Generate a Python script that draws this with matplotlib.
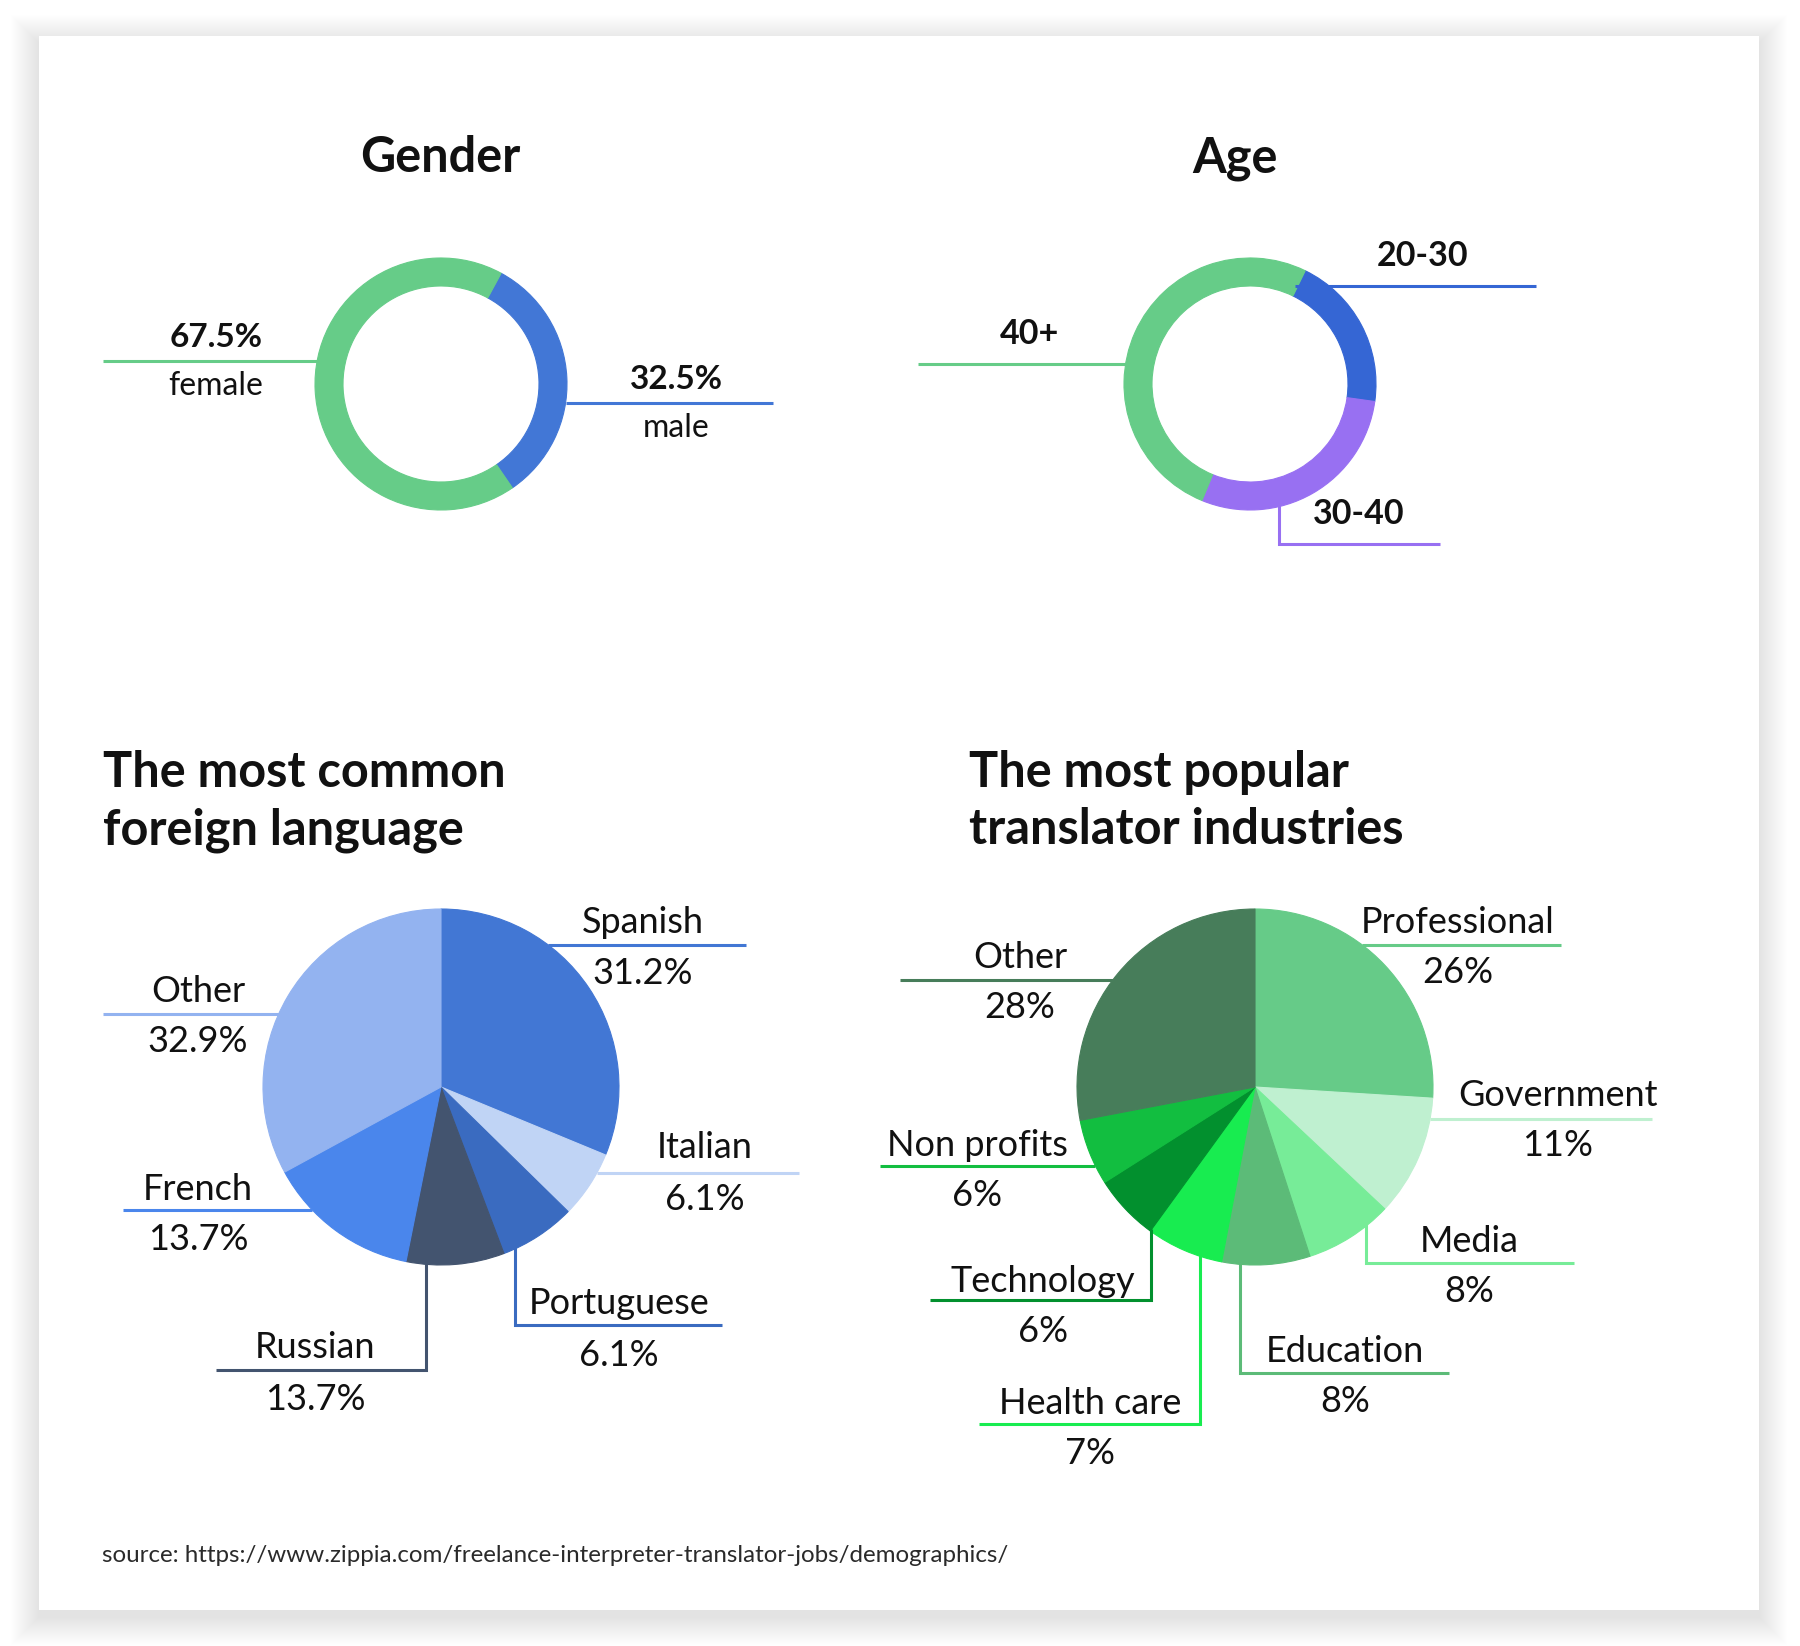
import numpy as np
import matplotlib.pyplot as plt
from matplotlib.patches import Rectangle

plt.rcParams['font.family'] = ['Lato', 'DejaVu Sans']

# ---------------------------------------------------
# DATA
# ---------------------------------------------------
gender_labels = ["male", "female"]
gender_values = [32.5, 67.5]
gender_colors = ["#4277D6", "#66CC88"]

age_labels = ["20-30", "30-40", "40+"]
age_values = [20, 29, 51]
age_colors = ["#3566D4", "#9870F2", "#66CC88"]

lang_labels = ["Spanish", "Italian", "Portuguese", "Russian", "French", "Other"]
lang_values = [31.2, 6.1, 6.9, 8.9, 13.9, 32.9]   # slice sizes as drawn
lang_pct = ["31.2%", "6.1%", "6.1%", "13.7%", "13.7%", "32.9%"]  # as printed
lang_colors = ["#4277D4", "#C0D4F5", "#3A6BC0", "#43546F", "#4A86EC", "#93B3F0"]

ind_labels = ["Professional", "Government", "Media", "Education",
              "Health care", "Technology", "Non profits", "Other"]
ind_values = [26, 11, 8, 8, 7, 6, 6, 28]
ind_colors = ["#66CB88", "#BFF0D0", "#77EC98", "#5CBB78",
              "#18EC50", "#02902E", "#12BE40", "#477D5A"]

source = "source: https://www.zippia.com/freelance-interpreter-translator-jobs/demographics/"

# ---------------------------------------------------
# FIGURE (one axes in pixel units, y measured from top)
# ---------------------------------------------------
W, H = 1800, 1646
fig = plt.figure(figsize=(W / 100, H / 100), dpi=100)
ax = fig.add_axes([0, 0, 1, 1])


def Y(y):
    return H - y


# card with a soft shadow
cx0, cy0, cx1, cy1 = 39, 36, 1759, 1610
for e in range(28, 0, -1):
    ax.add_patch(Rectangle((cx0 - e, Y(cy1 + e + 7)), cx1 - cx0 + 2 * e,
                           cy1 - cy0 + 2 * e, color="black", alpha=0.0028,
                           lw=0, zorder=0))
ax.add_patch(Rectangle((cx0, Y(cy1)), cx1 - cx0, cy1 - cy0, color="white",
                       lw=0, zorder=1))

LW = 2.2
TXT = "#111111"


def draw_pie(values, colors, cx, cy, r, start, width=None):
    wp = {"linewidth": 0}
    if width:
        wp["width"] = width
    wedges, _ = ax.pie(values, colors=colors, center=(cx, Y(cy)), radius=r,
                       startangle=start, counterclock=False, wedgeprops=wp,
                       frame=True)
    for w in wedges:
        w.set_edgecolor(w.get_facecolor())
        w.set_linewidth(0.8)
        w.set_zorder(3)
    return wedges


def hline(cx, cy, r, side, ly, x_end, color):
    dx = np.sqrt(max(r ** 2 - (ly - cy) ** 2, 0))
    x0 = cx + side * dx
    ax.plot([x0, x_end], [Y(ly), Y(ly)], color=color, lw=LW,
            solid_capstyle="butt", zorder=4)


def elbow(cx, cy, r, lx, ly, x_end, color):
    y0 = cy + np.sqrt(max(r ** 2 - (lx - cx) ** 2, 0)) - 2
    ax.plot([lx, lx, x_end], [Y(y0), Y(ly), Y(ly)], color=color, lw=LW,
            solid_capstyle="butt", solid_joinstyle="miter", zorder=4)


def label(x, y, s, size=26, weight="normal"):
    ax.text(x, Y(y), s, ha="center", va="center_baseline", fontsize=size,
            fontweight=weight, color=TXT, zorder=5)


def title(x, y, s, ha="center"):
    ax.text(x, Y(y), s, ha=ha, va="baseline", fontsize=35,
            fontweight="bold", color=TXT, zorder=5)


# ---------------------------------------------------
# GENDER
# ---------------------------------------------------
gx, gy, gr = 441, 384, 126
title(440, 172, "Gender")
draw_pie(gender_values, gender_colors, gx, gy, gr, 61.5, width=28)
hline(gx, gy, gr, +1, 403, 773, gender_colors[0])
label(676, 377, f"{gender_values[0]}%", 24, "bold")
label(676, 425, gender_labels[0], 23)
hline(gx, gy, gr, -1, 361, 103, gender_colors[1])
label(216, 335, f"{gender_values[1]}%", 24, "bold")
label(216, 383, gender_labels[1], 23)

# ---------------------------------------------------
# AGE
# ---------------------------------------------------
axx, ayy, ar = 1250, 384, 126
title(1235, 172, "Age")
draw_pie(age_values, age_colors, axx, ayy, ar, 64, width=28)
hline(axx, ayy, ar - 18, +1, 286, 1536, age_colors[0])
label(1423, 253, age_labels[0], 24.5, "bold")
elbow(axx, ayy, ar, 1279, 544, 1440, age_colors[1])
label(1359, 511, age_labels[1], 24.5, "bold")
hline(axx, ayy, ar, -1, 364, 918, age_colors[2])
label(1030, 331, age_labels[2], 24.5, "bold")

# ---------------------------------------------------
# LANGUAGE
# ---------------------------------------------------
lx, ly, lr = 441, 1087, 178
title(103, 787, "The most common", ha="left")
title(103, 844, "foreign language", ha="left")
draw_pie(lang_values, lang_colors, lx, ly, lr, 90)

# (kind, level, end, label x, label y)
lang_lead = [
    ("h", +1, 945, 746, 643, 919),
    ("h", +1, 1173, 799, 705, 1145),
    ("e", 515, 1325, 722, 619, 1301),
    ("e", 426, 1370, 216, 315, 1345),
    ("h", -1, 1210, 123, 198, 1186),
    ("h", -1, 1014, 103, 198, 988),
]
for i, (kind, a, b, c, tx, ty) in enumerate(lang_lead):
    if kind == "h":
        hline(lx, ly, lr, a, b, c, lang_colors[i])
    else:
        elbow(lx, ly, lr, a, b, c, lang_colors[i])
    label(tx, ty, lang_labels[i])
    label(tx, ty + 51, lang_pct[i])

# ---------------------------------------------------
# INDUSTRIES
# ---------------------------------------------------
ix, iy, ir = 1255, 1087, 178
title(969, 787, "The most popular", ha="left")
title(969, 844, "translator industries", ha="left")
draw_pie(ind_values, ind_colors, ix, iy, ir, 90)

ind_lead = [
    ("h", +1, 945, 1561, 1458, 919),
    ("h", +1, 1119, 1652, 1558, 1093),
    ("e", 1366, 1263, 1574, 1469, 1238),
    ("e", 1240, 1373, 1449, 1345, 1349),
    ("e", 1200, 1424, 979, 1090, 1400),
    ("e", 1151, 1300, 930, 1043, 1279),
    ("h", -1, 1166, 880, 977, 1142),
    ("h", -1, 980, 900, 1020, 954),
]
for i, (kind, a, b, c, tx, ty) in enumerate(ind_lead):
    if kind == "h":
        hline(ix, iy, ir, a, b, c, ind_colors[i])
    else:
        elbow(ix, iy, ir, a, b, c, ind_colors[i])
    label(tx, ty, ind_labels[i])
    label(tx, ty + 50, f"{ind_values[i]}%")

# source line
ax.text(102, Y(1554), source, ha="left", va="center_baseline", fontsize=17.4,
        color="#2A2A2A", zorder=5)

ax.set_xlim(0, W)
ax.set_ylim(0, H)
ax.set_aspect("auto")
ax.axis("off")
fig.savefig("out.png", dpi=100, facecolor="white")
